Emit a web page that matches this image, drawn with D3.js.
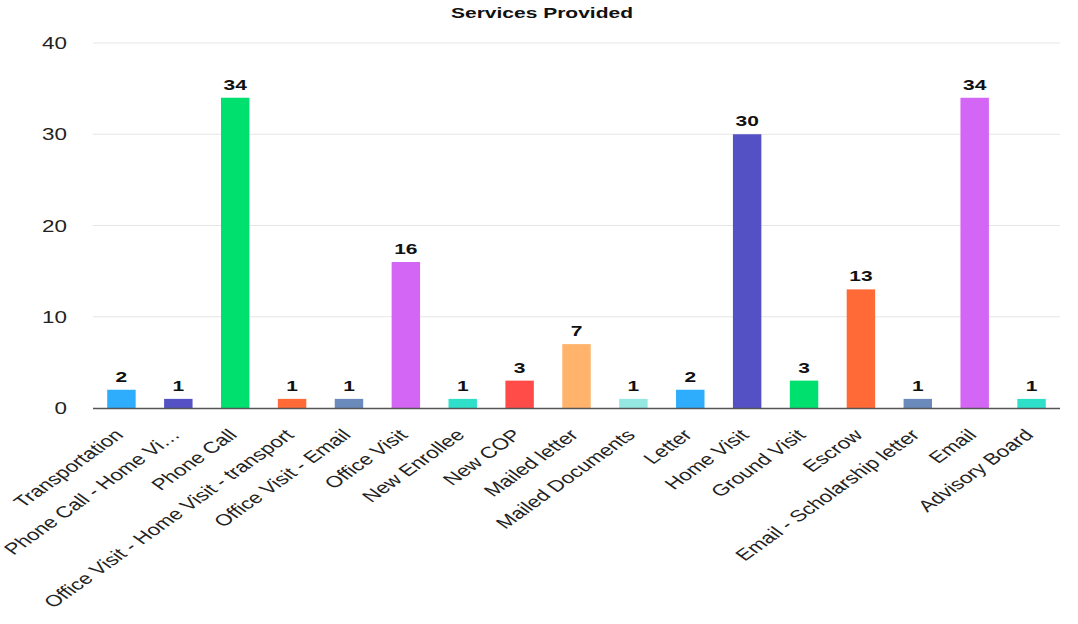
<!DOCTYPE html>
<html><head><meta charset="utf-8">
<script src="https://cdn.jsdelivr.net/npm/d3@7"></script>
<style>body{margin:0;background:#fff;} svg{display:block;font-family:"Liberation Sans",Arial,sans-serif;}</style>
</head><body>
<svg id="c" width="1078" height="624"></svg>
<script>
const categories = ["Transportation","Phone Call - Home Vi\u2026","Phone Call","Office Visit - Home Visit - transport","Office Visit - Email","Office Visit","New Enrollee","New COP","Mailed letter","Mailed Documents","Letter","Home Visit","Ground Visit","Escrow","Email - Scholarship letter","Email","Advisory Board"];
const values = [2,1,34,1,1,16,1,3,7,1,2,30,3,13,1,34,1];
const yTicks = [0,10,20,30,40];
const palette = ["#2eadfd","#5451c5","#00e06f","#ff6a36","#6a8abb","#d466f5","#2ee0c9","#ff4c48","#ffb36b","#94e8e1"];
const title = "Services Provided";

const SX = 1.4; // horizontal stretch of text seen in the reference
const svg = d3.select("#c");
const m = {l:93, r:1060, t:43, b:408};
const x = d3.scaleBand().domain(categories).range([m.l, m.r]).paddingInner(0.5).paddingOuter(0.25);
const y = d3.scaleLinear().domain([0,40]).range([m.b, m.t]);

svg.append("text").attr("transform",`translate(542,18) scale(${SX},1)`).attr("text-anchor","middle")
  .attr("font-weight","bold").attr("font-size",15).attr("fill","#111").text(title);

// gridlines
svg.append("g").selectAll("line").data(yTicks.filter(d=>d>0)).join("line")
  .attr("x1",m.l).attr("x2",m.r).attr("y1",d=>y(d)).attr("y2",d=>y(d))
  .attr("stroke","#e6e6e6").attr("stroke-width",1);

// y axis labels
const ya = svg.append("g").attr("transform",`translate(${m.l},0)`)
  .call(d3.axisLeft(y).tickValues(yTicks).tickSize(0));
ya.select(".domain").remove();
ya.selectAll(".tick text").attr("font-size",16).attr("fill","#222")
  .attr("font-family","'Liberation Sans',Arial,sans-serif")
  .attr("x",null).attr("dy","0.35em").attr("text-anchor","end")
  .attr("transform",`translate(-26,0) scale(${SX},1)`);

// bars
svg.append("g").selectAll("rect").data(values).join("rect")
  .attr("x",(d,i)=>x(categories[i])).attr("width",x.bandwidth())
  .attr("y",d=>y(d)).attr("height",d=>y(0)-y(d))
  .attr("fill",(d,i)=>palette[i%palette.length]);

// value labels
svg.append("g").selectAll("text").data(values).join("text")
  .attr("transform",(d,i)=>`translate(${x(categories[i])+x.bandwidth()/2},${y(d)-8}) scale(${SX},1)`)
  .attr("text-anchor","middle").attr("font-weight","bold").attr("font-size",15).attr("fill","#111")
  .text(d=>d);

// x axis
const xa = svg.append("g").attr("transform",`translate(0,${m.b})`)
  .call(d3.axisBottom(x).tickSize(0).tickPadding(0));
xa.select(".domain").attr("stroke","#555").attr("stroke-width",1.5).attr("d",`M${m.l},0.5H${m.r}`);
xa.selectAll(".tick text").attr("font-size",16).attr("fill","#222")
  .attr("font-family","'Liberation Sans',Arial,sans-serif")
  .attr("text-anchor","end").attr("dy",null).attr("y",null)
  .attr("transform",`translate(3,28) scale(${SX},1) rotate(-45)`);
</script>
</body></html>
